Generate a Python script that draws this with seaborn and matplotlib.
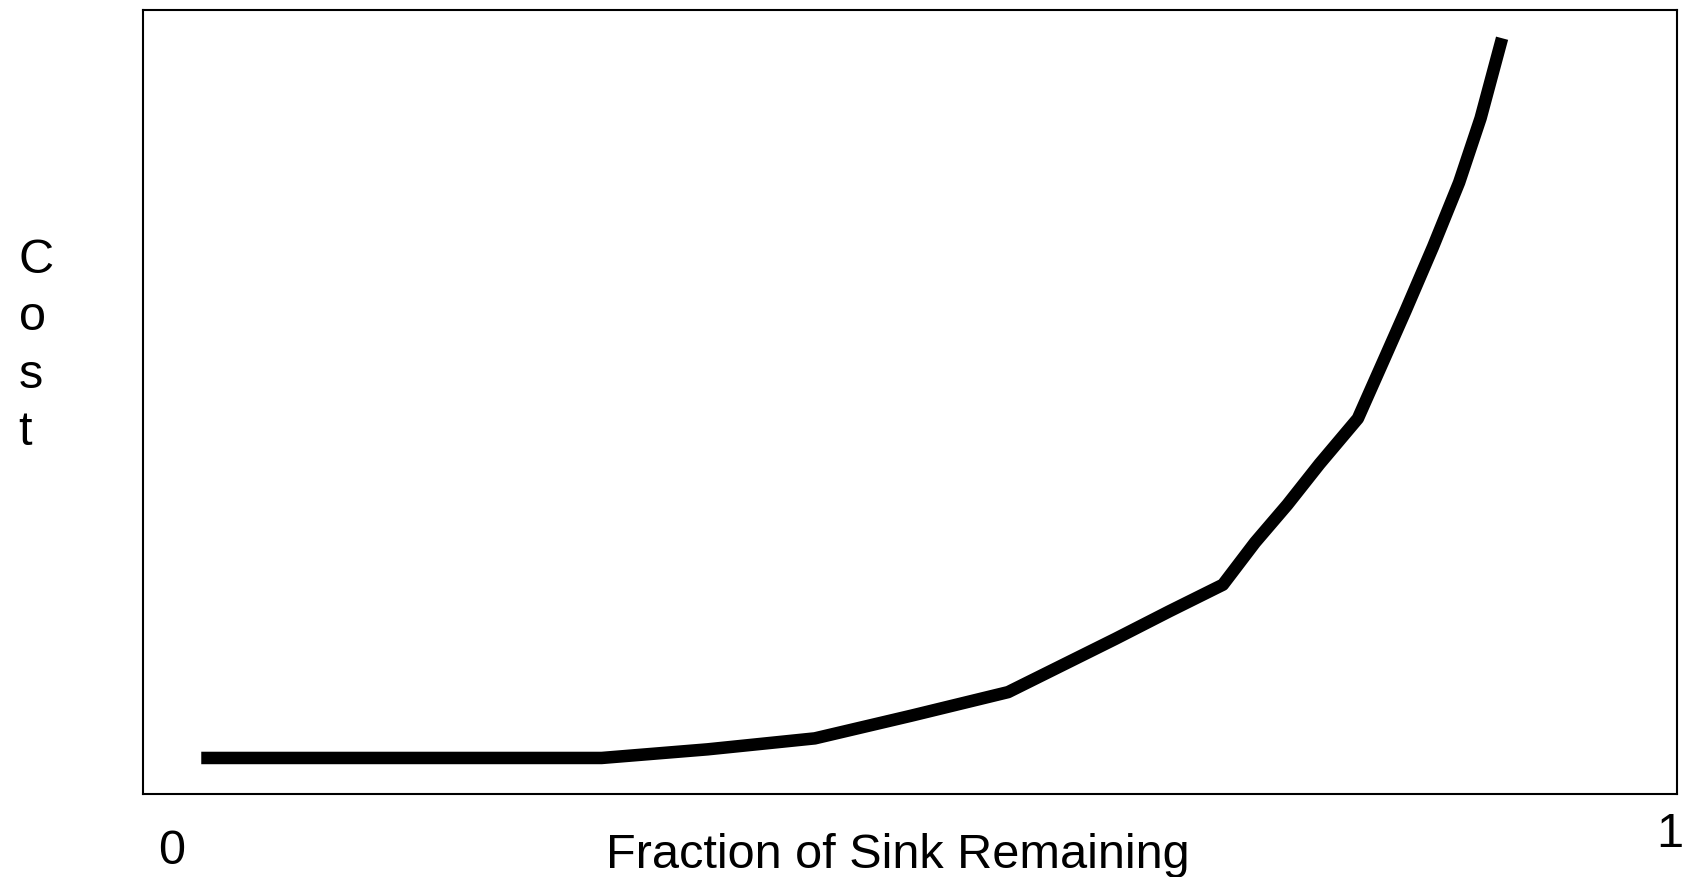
import matplotlib
matplotlib.use('Agg')
import matplotlib.pyplot as plt
import seaborn as sns
import pandas as pd

# fraction of sink remaining (axis units 0..1) and relative cost
fraccion = [0.038, 0.299, 0.368, 0.438, 0.501, 0.564, 0.599, 0.634, 0.669, 0.704,
            0.725, 0.746, 0.767, 0.792, 0.809, 0.823, 0.841, 0.858, 0.872, 0.886]
costo = [0.046, 0.046, 0.057, 0.071, 0.100, 0.130, 0.164, 0.198, 0.233, 0.267,
         0.321, 0.369, 0.421, 0.479, 0.554, 0.616, 0.698, 0.780, 0.862, 0.964]

df = pd.DataFrame({'fraccion': fraccion, 'costo': costo})

sns.set_style('white')
plt.rcParams['font.family'] = ['Liberation Sans', 'DejaVu Sans']
plt.rcParams['text.color'] = 'black'

fig = plt.figure(figsize=(16.82, 8.77), dpi=100)
ax = fig.add_axes([0.085, 0.0946, 0.912, 0.894])
sns.lineplot(data=df, x='fraccion', y='costo', color='black', linewidth=9, ax=ax,
             solid_capstyle='butt', sort=False)

ax.set_xlim(0, 1)
ax.set_ylim(0, 1)
ax.set_xticks([])
ax.set_yticks([])
ax.set_xlabel('')
ax.set_ylabel('')
for s in ax.spines.values():
    s.set_color('black')
    s.set_linewidth(1.5)

fig.text(0.5339, 0.025, 'Fraction of Sink Remaining', fontsize=35, ha='center', va='center', color='black')
fig.text(0.102, 0.029, '0', fontsize=35, ha='center', va='center', color='black')
fig.text(0.993, 0.048, '1', fontsize=35, ha='center', va='center', color='black')
fig.text(0.011, 0.605, 'C\no\ns\nt', fontsize=35, ha='left', va='center',
         multialignment='left', linespacing=1.35, color='black')

fig.savefig('out.png', dpi=100, facecolor='white')
